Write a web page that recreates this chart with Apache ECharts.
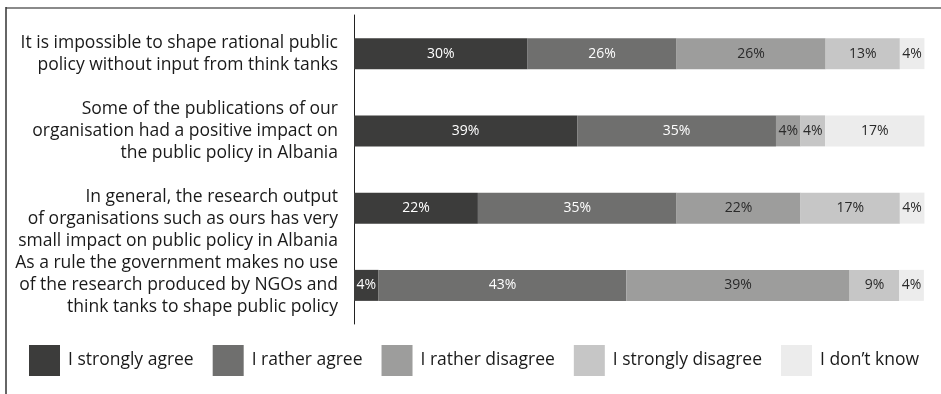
<!DOCTYPE html>
<html>
<head>
<meta charset="utf-8">
<script src="https://cdn.jsdelivr.net/npm/echarts@6/dist/echarts.min.js"></script>
<style>
html,body{margin:0;padding:0;background:#fff;}
#chart{width:941px;height:394px;}
</style>
</head>
<body>
<div id="chart"></div>
<script>
var categories = [
  "It is impossible to shape rational public\npolicy without input from think tanks",
  "Some of the publications of our\norganisation had a positive impact on\nthe public policy in Albania",
  "In general, the research output\nof organisations such as ours has very\nsmall impact on public policy in Albania",
  "As a rule the government makes no use\nof the research produced by NGOs and\nthink tanks to shape public policy"
];
var seriesNames = ["I strongly agree", "I rather agree", "I rather disagree", "I strongly disagree", "I don\u2019t know"];
var stronglyAgree    = [30.4, 39.1, 21.7, 4.3];
var ratherAgree      = [26.1, 34.8, 34.8, 43.4];
var ratherDisagree   = [26.1, 4.3, 21.7, 39.1];
var stronglyDisagree = [13.0, 4.3, 17.4, 8.7];
var dontKnow         = [4.3, 17.4, 4.3, 4.3];

var values = [stronglyAgree, ratherAgree, ratherDisagree, stronglyDisagree, dontKnow];
var colors = ["#3c3c3b", "#6f6f6e", "#9d9d9c", "#c6c6c6", "#ececec"];
var labelColors = ["#ffffff", "#ffffff", "#2a2a2a", "#2a2a2a", "#2a2a2a"];
var FONT = "Open Sans";

var chart = echarts.init(document.getElementById('chart'), null, {renderer: 'canvas'});
var series = values.map(function (arr, i) {
  return {
    name: seriesNames[i],
    type: 'bar',
    stack: 'total',
    barWidth: 31,
    data: arr,
    itemStyle: {color: colors[i]},
    label: {
      show: true,
      position: 'inside',
      color: labelColors[i],
      fontFamily: FONT,
      fontSize: 14,
      formatter: function (p) { return Math.round(p.value) + '%'; }
    },
    emphasis: {disabled: true}
  };
});

chart.setOption({
  animation: false,
  textStyle: {fontFamily: FONT},
  grid: {left: 354, width: 571, top: 15, height: 309, containLabel: false},
  xAxis: {type: 'value', min: 0, max: 100, show: false},
  yAxis: {
    type: 'category',
    inverse: true,
    data: categories,
    axisLine: {show: true, lineStyle: {color: '#222', width: 1}},
    axisTick: {show: false},
    splitLine: {show: false},
    axisLabel: {
      margin: 16,
      fontFamily: FONT,
      fontSize: 17.5,
      lineHeight: 22,
      color: '#1a1a1a',
      align: 'right',
      formatter: function (v, idx) { return idx === 2 ? '\n' + v : v; }
    }
  },
  legend: {
    left: 29,
    top: 345,
    padding: 0,
    itemWidth: 31,
    itemHeight: 31,
    itemGap: 19,
    icon: 'rect',
    selectedMode: false,
    data: seriesNames,
    textStyle: {fontFamily: FONT, fontSize: 17.5, color: '#1a1a1a', padding: [0, 0, 0, 3]}
  },
  graphic: [
    {type: 'line', shape: {x1: 6, y1: 8, x2: 941, y2: 8}, style: {stroke: '#8a8a8a', lineWidth: 2}},
    {type: 'line', shape: {x1: 6, y1: 7, x2: 6, y2: 394}, style: {stroke: '#333', lineWidth: 1.5}}
  ],
  series: series
});
</script>
</body>
</html>
